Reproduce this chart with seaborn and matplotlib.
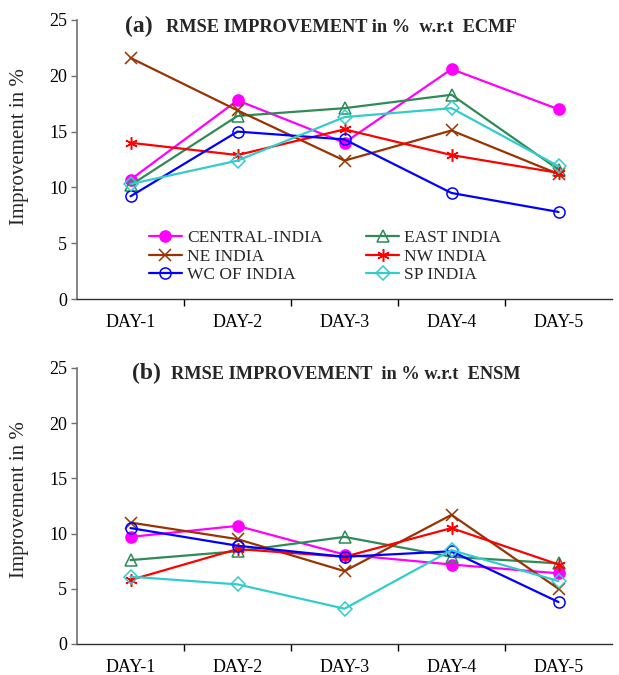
import matplotlib
matplotlib.use("Agg")
import matplotlib.pyplot as plt
import seaborn as sns
import pandas as pd

sns.set_theme(style="white")
plt.rcParams['font.family'] = ['Liberation Serif', 'DejaVu Serif']

days = ["DAY-1", "DAY-2", "DAY-3", "DAY-4", "DAY-5"]
regions = ["CENTRAL-INDIA", "EAST INDIA", "NE INDIA", "NW INDIA", "WC OF INDIA", "SP INDIA"]

# Panel (a): RMSE improvement w.r.t ECMF
ecmf_central = [10.7, 17.8, 14.0, 20.6, 17.0]
ecmf_east    = [10.2, 16.4, 17.1, 18.3, 11.6]
ecmf_ne      = [21.6, 16.9, 12.4, 15.1, 11.2]
ecmf_nw      = [14.0, 12.9, 15.2, 12.9, 11.3]
ecmf_wc      = [9.2, 15.0, 14.3, 9.5, 7.8]
ecmf_sp      = [10.3, 12.4, 16.3, 17.1, 11.9]

# Panel (b): RMSE improvement w.r.t ENSM
ensm_central = [9.7, 10.7, 8.1, 7.2, 6.4]
ensm_east    = [7.6, 8.4, 9.7, 7.9, 7.3]
ensm_ne      = [11.0, 9.5, 6.6, 11.7, 5.0]
ensm_nw      = [5.8, 8.6, 7.9, 10.5, 7.2]
ensm_wc      = [10.5, 8.9, 7.9, 8.4, 3.8]
ensm_sp      = [6.1, 5.4, 3.2, 8.5, 5.7]

yticks = [0, 5, 10, 15, 20, 25]

colors = {"CENTRAL-INDIA": "#FF00FF", "EAST INDIA": "#2E8B57", "NE INDIA": "#993300",
          "NW INDIA": "#FF0000", "WC OF INDIA": "#0000FF", "SP INDIA": "#33CCCC"}
markers = {"CENTRAL-INDIA": "o", "EAST INDIA": "^", "NE INDIA": "x",
           "NW INDIA": (6, 2, 0), "WC OF INDIA": "o", "SP INDIA": "D"}
filled = {"CENTRAL-INDIA": True, "EAST INDIA": False, "NE INDIA": True,
          "NW INDIA": True, "WC OF INDIA": False, "SP INDIA": False}
msizes = {"CENTRAL-INDIA": 8, "EAST INDIA": 8, "NE INDIA": 8,
          "NW INDIA": 9, "WC OF INDIA": 8, "SP INDIA": 7}

fig = plt.figure(figsize=(6.19, 6.75), dpi=100)
W, H = 619, 675
axL, axR = 77, 612
ax_a = fig.add_axes([axL / W, (H - 299) / H, (axR - axL) / W, (299 - 20) / H])
ax_b = fig.add_axes([axL / W, (H - 644) / H, (axR - axL) / W, (644 - 368) / H])

def draw(ax, series):
    for reg, vals in zip(regions, series):
        df = pd.DataFrame({"day": days, "val": vals})
        c = colors[reg]
        sns.lineplot(data=df, x="day", y="val", ax=ax, color=c, lw=1.6,
                     marker=markers[reg], markersize=msizes[reg],
                     markerfacecolor=c if filled[reg] else "none",
                     markeredgecolor=c, markeredgewidth=1.1, label=reg,
                     sort=False)
    ax.set_xlim(-0.5, 4.5)
    ax.set_ylim(0, 25)
    ax.set_yticks(yticks)
    ax.set_xticks(range(len(days)))
    ax.set_xticklabels(days)
    ax.set_xticks([0.5, 1.5, 2.5, 3.5], minor=True)
    ax.tick_params(axis="x", which="major", length=0, labelsize=13, pad=11, colors="black")
    ax.tick_params(axis="x", which="minor", length=5, width=1, direction="out", color="black", bottom=True)
    ax.tick_params(axis="y", which="major", length=4, width=1, direction="out", color="#707070",
                   labelsize=13, pad=3, left=True, labelcolor="black")
    for s in ["top", "right"]:
        ax.spines[s].set_visible(False)
    ax.spines["left"].set_color("#707070")
    ax.spines["left"].set_linewidth(1.2)
    ax.spines["bottom"].set_color("#303030")
    ax.spines["bottom"].set_linewidth(1.0)
    ax.set_xlabel("")
    ax.set_ylabel("Improvement in %", fontsize=15)

draw(ax_a, [ecmf_central, ecmf_east, ecmf_ne, ecmf_nw, ecmf_wc, ecmf_sp])
draw(ax_b, [ensm_central, ensm_east, ensm_ne, ensm_nw, ensm_wc, ensm_sp])

ax_a.yaxis.set_label_coords((29 - axL) / (axR - axL), (299 - 147) / 279)
ax_b.yaxis.set_label_coords((29 - axL) / (axR - axL), (644 - 500) / 276)

ax_b.get_legend().remove()
handles, labels = ax_a.get_legend_handles_labels()
order = [0, 2, 4, 1, 3, 5]
ax_a.legend([handles[i] for i in order], [labels[i] for i in order], ncol=2,
            loc="upper left", bbox_to_anchor=((149 - axL) / (axR - axL), (299 - 230) / 279),
            frameon=False, fontsize=12.5, handlelength=1.9, handletextpad=0.3,
            columnspacing=2.5, labelspacing=0.14, borderpad=0, borderaxespad=0)

fig.text(125 / W, (H - 32) / H, "(a)", fontsize=17, fontweight="bold", va="baseline", ha="left")
fig.text(166 / W, (H - 32) / H, "RMSE IMPROVEMENT in %  w.r.t  ECMF", fontsize=13.2,
         fontweight="bold", va="baseline", ha="left")
fig.text(132 / W, (H - 379) / H, "(b)", fontsize=17, fontweight="bold", va="baseline", ha="left")
fig.text(171 / W, (H - 379) / H, "RMSE IMPROVEMENT  in % w.r.t  ENSM", fontsize=13.2,
         fontweight="bold", va="baseline", ha="left")

fig.savefig("out.png", dpi=100)
